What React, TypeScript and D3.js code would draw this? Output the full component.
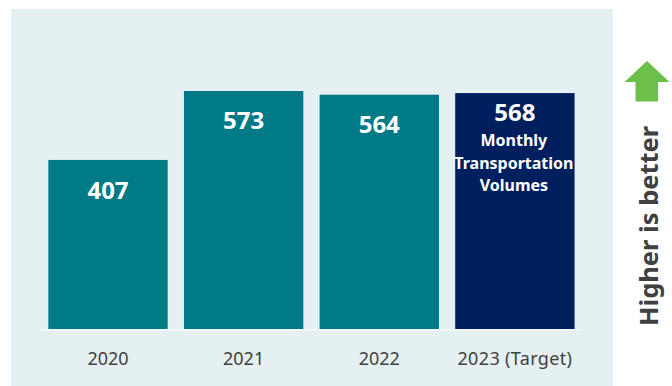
import React from "react";
import * as d3 from "d3";

const years = ["2020", "2021", "2022", "2023 (Target)"];
const volumes = [407, 573, 564, 568];
const targetYear = "2023 (Target)";
const targetCaption = ["Monthly", "Transportation", "Volumes"];

const FONT = "'Noto Sans', sans-serif";
const TEAL = "#007a87";
const NAVY = "#001f5f";
const PANEL = "#e4f0f2";
const INK = "#404040";
const GREEN = "#6cbf4b";

export default function App() {
  const x = d3.scaleBand<string>().domain(years).range([40.2, 582.7]).paddingInner(0.12).paddingOuter(0.06);
  const y = d3.scaleLinear().domain([0, 573]).range([329, 91]);
  const arrow = d3.line()([[647, 61], [669.5, 82], [658, 82], [658, 101.5], [635.5, 101.5], [635.5, 82], [624.5, 82]]) + "Z";

  return (
    <svg width={672} height={386} style={{ position: "fixed", left: 0, top: 0 }} fontFamily={FONT}>
      <rect x={0} y={0} width={672} height={386} fill="#fff" />
      <rect x={11} y={9} width={602} height={377} fill={PANEL} />
      {years.map((year, i) => {
        const cx = x(year)! + x.bandwidth() / 2;
        const top = y(volumes[i]);
        return (
          <g key={year}>
            <rect x={x(year)!} y={top} width={x.bandwidth()} height={y(0) - top} fill={year === targetYear ? NAVY : TEAL} />
            <text x={cx} y={top + (year === targetYear ? 28 : year === "2020" ? 39 : 38)} textAnchor="middle" fontSize={24} fontWeight={700} fill="#fff">
              {volumes[i]}
            </text>
            <text x={cx} y={365} textAnchor="middle" fontSize={18} letterSpacing={year === targetYear ? 0.35 : 0} fill={INK}>{year}</text>
          </g>
        );
      })}
      <line x1={40} x2={583} y1={329.7} y2={329.7} stroke="#f7fafb" strokeWidth={1.6} />
      {targetCaption.map((line, i) => (
        <text key={line} x={x(targetYear)! + x.bandwidth() / 2 - 1} y={146 + i * 22.5} textAnchor="middle" fontSize={16} fontWeight={700} fill="#fff">
          {line}
        </text>
      ))}
      <path d={arrow} fill={GREEN} />
      <text transform="translate(657.5,326) rotate(-90)" fontSize={25.5} fontWeight={700} fill={INK}>Higher is better</text>
    </svg>
  );
}
